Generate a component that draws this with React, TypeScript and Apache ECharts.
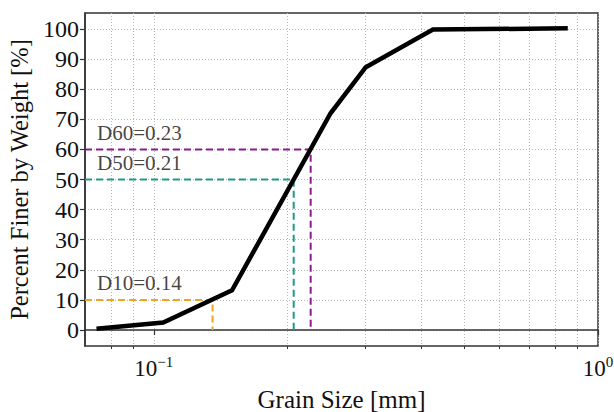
import React, { useEffect, useRef } from "react";
import * as echarts from "echarts";

// Grain size distribution (mm, % finer)
const grainSizes = [0.0743, 0.105, 0.15, 0.25, 0.3, 0.425, 0.855];
const percentFiner = [0.4, 2.5, 13.2, 72, 87.3, 99.8, 100.2];

// Characteristic diameters
const dNames = ["D60", "D50", "D10"];
const dPercents = [60, 50, 10];
const dValues = [0.2255, 0.2065, 0.1356];
const dLabels = ["D60=0.23", "D50=0.21", "D10=0.14"];
const dColors = ["#8b1c8b", "#1f9a8a", "#f5a21e"];

// Axis ticks
const yTicks = [0, 10, 20, 30, 40, 50, 60, 70, 80, 90, 100];
const xMajorTicks = [0.1, 1];
const xMinorTicks = [0.08, 0.09, 0.2, 0.3, 0.4, 0.5, 0.6, 0.7, 0.8, 0.9];
const xMin = 0.07;
const xMax = 1;

const FONT = "'Liberation Serif', 'Times New Roman', serif";
const TEXT = "#111111";
const SPINE = "#333333";
const GRID = "#b5b5b5";

export default function App() {
  const ref = useRef<HTMLDivElement>(null);

  useEffect(() => {
    document.body.style.margin = "0";
    if (!ref.current) return;
    const chart = echarts.init(ref.current, null, { renderer: "svg" });

    const dSeries: any[] = [];
    dNames.forEach((name, i) => {
      dSeries.push({
        name,
        type: "line",
        xAxisIndex: 0,
        data: [
          [xMin, dPercents[i]],
          [dValues[i], dPercents[i]],
          [dValues[i], 0],
        ],
        symbol: "none",
        lineStyle: { color: dColors[i], width: 2, type: [7, 4] },
        z: 3,
      });
      dSeries.push({
        name: name + "-label",
        type: "scatter",
        xAxisIndex: 0,
        data: [[0.0745, dPercents[i] + 5.5]],
        symbolSize: 0,
        label: {
          show: true,
          position: "right",
          distance: 0,
          formatter: dLabels[i],
          fontFamily: FONT,
          fontSize: 21,
          color: TEXT,
        },
        z: 5,
      });
    });

    const option: any = {
      animation: false,
      backgroundColor: "#ffffff",
      grid: {
        left: 85,
        right: 16,
        top: 13,
        bottom: 66,
        containLabel: false,
        outerBoundsMode: "none",
        show: true,
        borderColor: SPINE,
        borderWidth: 1.5,
        backgroundColor: "transparent",
      },
      xAxis: [
        {
          type: "log",
          logBase: 10,
          min: xMin,
          max: xMax,
          position: "bottom",
          name: "Grain Size [mm]",
          nameLocation: "middle",
          nameGap: 41,
          nameTextStyle: { fontFamily: FONT, fontSize: 25, color: TEXT },
          axisLine: { show: true, lineStyle: { color: SPINE, width: 1.5 } },
          axisTick: {
            show: true,
            customValues: xMajorTicks,
            length: 5,
            lineStyle: { color: SPINE, width: 1.2 },
          },
          axisLabel: {
            show: true,
            customValues: xMajorTicks,
            showMaxLabel: true,
            showMinLabel: true,
            margin: 8,
            formatter: (v: number) => {
              const e = Math.round(Math.log10(v));
              return "{b|10}{s|" + (e < 0 ? "\u2212" + Math.abs(e) : String(e)) + "}";
            },
            rich: {
              b: { fontFamily: FONT, fontSize: 23, color: TEXT },
              s: {
                fontFamily: FONT,
                fontSize: 15,
                color: TEXT,
                padding: [0, 0, 14, 0],
              },
            },
          },
          splitLine: {
            show: true,
            lineStyle: { color: GRID, width: 1, type: [1, 2] },
          },
        },
        {
          type: "log",
          logBase: 10,
          min: xMin,
          max: xMax,
          position: "bottom",
          axisLine: { show: false },
          axisTick: {
            show: true,
            customValues: xMinorTicks,
            length: 3,
            lineStyle: { color: SPINE, width: 1 },
          },
          axisLabel: { show: false },
          splitLine: {
            show: true,
            lineStyle: { color: GRID, width: 1, type: [1, 2] },
          },
        },
      ],
      yAxis: {
        type: "value",
        min: -5.3,
        max: 105.3,
        name: "Percent Finer by Weight [%]",
        nameLocation: "middle",
        nameGap: 52,
        nameTextStyle: { fontFamily: FONT, fontSize: 24.5, color: TEXT },
        axisLine: { show: true, lineStyle: { color: SPINE, width: 1.5 } },
        axisTick: {
          show: true,
          customValues: yTicks,
          length: 5,
          lineStyle: { color: SPINE, width: 1.2 },
        },
        axisLabel: {
          customValues: yTicks,
          fontFamily: FONT,
          fontSize: 24,
          color: TEXT,
          margin: 6,
        },
        splitLine: {
          show: true,
          lineStyle: { color: GRID, width: 1, type: [1, 2] },
        },
      },
      series: [
        ...dSeries,
        {
          name: "PSD",
          type: "line",
          xAxisIndex: 0,
          data: grainSizes.map((g, i) => [g, percentFiner[i]]),
          symbol: "none",
          lineStyle: { color: "#000000", width: 4.5, join: "miter" },
          z: 4,
        },
      ],
    };

    chart.setOption(option);
    return () => chart.dispose();
  }, []);

  return <div ref={ref} style={{ width: 614, height: 412 }} />;
}
